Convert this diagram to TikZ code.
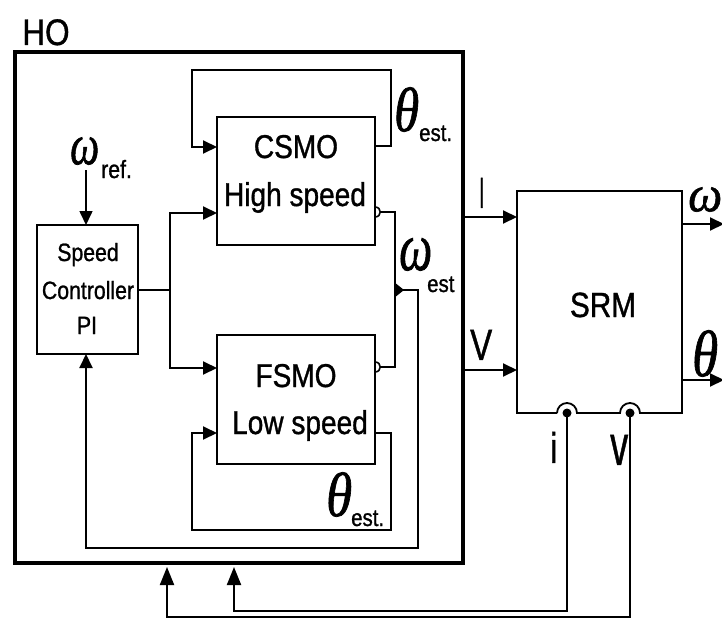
\documentclass[tikz,border=0pt]{standalone}
\usepackage{fontspec}
\setmainfont{Liberation Sans}[FakeStretch=0.85,FakeBold=1]
\newfontfamily\grk{Liberation Serif}[UprightFont=*-Italic,FakeBold=1.2]
\usetikzlibrary{arrows.meta,calc}
\newcommand\fsz[1]{\fontsize{#1}{#1}\selectfont}
\newcommand\gk[3]{\resizebox{#1pt}{#2pt}{\grk #3}}
\newcommand\rz[3]{\resizebox{#1pt}{#2pt}{#3}}
\begin{document}
\begin{tikzpicture}[x=1pt,y=-1pt,line join=miter,
  ln/.style={line width=2pt},
  arr/.style={ln,-{Triangle[length=14pt,width=13pt]}},
  barr/.style={ln,-{Triangle[length=18pt,width=14pt]}},
  box/.style={draw,line width=2.4pt,inner sep=0pt,outer sep=0pt,anchor=north west},
  lbl/.style={inner sep=0pt,anchor=base},
  sub/.style={inner sep=0pt,anchor=base west,font=\fsz{25}},
  gr/.style={inner sep=0pt,anchor=south west}]
\useasboundingbox (0,0) rectangle (722,618);

% boxes
\node[box,line width=4.5pt,minimum width=448pt,minimum height=511pt] (ho) at (15,52) {};
\node[lbl,font=\fsz{37}] (holbl) at (46,45) {HO};

\node[box,minimum width=158pt,minimum height=128pt] (csmo) at (217,117) {};
\node[lbl,font=\fsz{33}] (csmo1) at (296,158) {CSMO};
\node[lbl,font=\fsz{33}] (csmo2) at (295,206) {High speed};

\node[box,minimum width=158pt,minimum height=129pt] (fsmo) at (217,335) {};
\node[lbl,font=\fsz{33}] (fsmo1) at (296,387) {FSMO};
\node[lbl,font=\fsz{33}] (fsmo2) at (300,434) {Low speed};

\node[box,line width=2pt,minimum width=101pt,minimum height=129pt] (pi) at (37,225) {};
\node[lbl,font=\fsz{25}] (pi1) at (88,261) {Speed};
\node[lbl,font=\fsz{25}] (pi2) at (88,299) {Controller};
\node[lbl,font=\fsz{25}] (pi3) at (87,334) {PI};

\node[inner sep=0pt,outer sep=0pt,anchor=north west,minimum width=165pt,minimum height=222pt] (srm) at (517,191) {};
\node[lbl,font=\fsz{35}] (srmlbl) at (603,317) {SRM};
\draw[line width=1.8pt] (557,413) -| (517,191) -| (682,413) -- (640,413)
  .. controls (640,407.5) and (635.5,403) .. (630,403)
  .. controls (624.5,403) and (620,407.5) .. (620,413) -- (577,413)
  .. controls (577,407.5) and (572.5,403) .. (567,403)
  .. controls (561.5,403) and (557,407.5) .. (557,413);
\fill (567,413) circle[radius=4.5pt];
\fill (630,413) circle[radius=4.5pt];

% greek labels
\node[gr] (wref) at (70,165) {\gk{29}{27}{ω}};
\node[sub] (wrefs) at (101,178) {ref.};
\node[gr] (th1) at (394,132) {\gk{25}{44}{θ}};
\node[sub,font=\fsz{24}] (th1s) at (419,141) {est.};
\node[gr] (west) at (399,271) {\gk{33}{32}{ω}};
\node[sub,font=\fsz{24}] (wests) at (427,292) {est};
\node[gr] (th2) at (326,517) {\gk{26}{44}{θ}};
\node[sub,font=\fsz{24}] (th2s) at (351,526) {est.};
\node[gr] (wout) at (688,212) {\gk{34}{24}{ω}};
\node[gr] (thout) at (692,377) {\gk{26}{46}{θ}};

% I, V, i, v labels
\node[gr] (ilbl) at (479,208) {\rz{5}{30}{I}};
\node[gr] (vlbl) at (470,360) {\rz{22}{30}{V}};
\node[gr] (ilow) at (550,463) {\rz{7}{31}{i}};
\node[gr] (vlow) at (610,465) {\rz{18}{30}{v}};

% omega_ref into PI
\coordinate (wrefend) at (86,170);
\draw[arr,line width=1.6pt] (wrefend) -- (wrefend |- pi.north);

% PI output split to observers
\coordinate (split) at (170,290);
\draw[ln] (pi.east |- split) -- (split);
\draw[arr] (split) |- ([yshift=-96pt]csmo.north west);
\draw[arr] (split) |- ([yshift=-33pt]fsmo.north west);

% CSMO theta feedback loop
\draw[arr] ([yshift=-29pt]csmo.north east) -| (391,70) -| (192,147) -- ([yshift=-30pt]csmo.north west);
% FSMO theta feedback loop
\draw[arr] ([yshift=-98pt]fsmo.north east) -| (391,530) -| (192,433) -- ([yshift=-98pt]fsmo.north west);

% omega_est outputs
\draw[line width=1.6pt] (375,207) .. controls (382,207) and (382,217) .. (375,217);
\draw[line width=1.6pt] (375,362) .. controls (382,362) and (382,372) .. (375,372);
\coordinate (jc) at (395,290);
\draw[ln] (380,212) -| (jc) |- (380,367);
\fill (394,282) -- (404,290) -- (394,298) -- cycle;
\coordinate (fbl) at (86,372);
\draw[ln] (jc) -| (418,548) -| (fbl);
\draw[arr] (fbl) -- (fbl |- pi.south);

% HO to SRM
\coordinate (srmI) at ([yshift=-26pt]srm.north west);
\coordinate (srmV) at ([yshift=-179pt]srm.north west);
\draw[arr] (srmI -| ho.east) -- (srmI);
\draw[arr] (srmV -| ho.east) -- (srmV);

% SRM outputs
\coordinate (wo) at ([yshift=-33pt]srm.north east);
\coordinate (to) at ([yshift=-189pt]srm.north east);
\draw[arr] (wo) -- (724,224);
\draw[arr] (to) -- (724,380);

% measured i, v back to HO
\draw[barr] (567,413) |- (234,611) -- (234,567);
\draw[barr] (630,413) |- (167,617) -- (167,567);
\end{tikzpicture}
\end{document}
